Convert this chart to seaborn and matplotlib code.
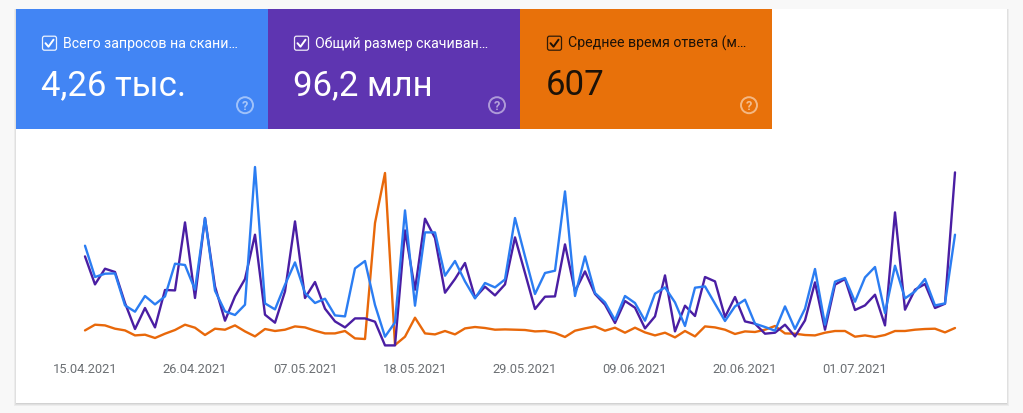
import numpy as np
import pandas as pd
import matplotlib
matplotlib.use('Agg')
import matplotlib.pyplot as plt
from matplotlib.patches import Rectangle, FancyBboxPatch, Circle
import seaborn as sns

# values, all three series on one relative scale
requests = [104,72.7,76,76.3,44.3,38,53.7,45.3,53.3,86,84.7,60,131.7,59,38.3,34.7,45,182.7,46.3,40.3,65,87.3,
            56.7,46.7,51,34.3,33.3,81.3,88.7,44.7,13,27.3,139.3,44,117.3,117.3,74,88.7,68.3,51.3,66.7,62.3,70.3,131.7,
            93.3,55.7,76.7,79,158.3,53.7,93.3,56.7,47.3,29.7,53.7,46.7,29,56,62.3,47.3,23.7,62,63.3,46,28.7,43.3,
            50,26,22.7,19,43.3,20.7,41,80.7,25,68,71.7,48,72.3,82.7,36.7,84,51.3,58.3,70.7,44.3,46.3,115]
size = [93.3,65.3,81,77.7,46.7,20.7,41.7,22.3,59.7,59.3,127.3,51.7,131.7,63.3,29,53.3,70.7,115,35,27,58.3,128.3,
        51.7,67.7,41,28.3,22.3,31.3,31.3,28,4.3,4.3,119.3,60,131,111.7,57,70.7,86.7,52,63,54.3,65.3,112.3,
        76.7,40.7,53,53.3,105.3,58.3,78.3,55.7,45,26.7,48.7,42,21.3,33.3,74.3,18.3,44,33.7,72.7,68.3,32.7,52.7,
        28.3,26,16,17,25,13.3,29.3,67.3,20,65,70.7,39.7,44.3,55,24.3,137.3,40,60,65.7,41.7,46,177.3]
response = [19.3,25,24.3,21,19.3,14.3,15,11.7,16,19.7,25,22,14.7,21,20,24.3,18.3,13.3,20.7,18.7,20,23.3,
            22.3,19,16.3,16.3,18.7,11.3,10.7,126.7,176.7,4.7,13,32,16.3,15.3,18.7,15.3,21.3,22.7,21.7,20,20.3,20,
            19.7,18.3,18.7,16.7,12.7,19,21.3,23.3,19,22,17,22,17.3,14.3,17,12.3,18.7,13.3,23.3,22.3,20,15.7,
            18.3,17.7,20,23.7,16.3,16,14.7,14.3,17,18.7,18.7,13,14.3,12.7,14.7,18.7,18.7,20,20.7,21,17.3,21.7]

dates = pd.date_range('2021-04-15', periods=len(requests), freq='D')
tick_dates = ['2021-04-15', '2021-04-26', '2021-05-07', '2021-05-18', '2021-05-29', '2021-06-09', '2021-06-20', '2021-07-01']

titles = ['Всего запросов на скани…', 'Общий размер скачиван…', 'Среднее время ответа (м…']
totals = ['4,26 тыс.', '96,2 млн', '607']
tile_colors = ['#4285F4', '#5E35B1', '#E8710A']
text_colors = ['white', 'white', '#1c1208']
line_colors = {'response': '#E8680A', 'size': '#4A1EA3', 'requests': '#2B7DF2'}

W, H = 1023, 414

sns.set_theme(style='white')
plt.rcParams['font.family'] = ['Roboto', 'DejaVu Sans']

fig = plt.figure(figsize=(W / 100, H / 100), dpi=100, facecolor='#F8F8F8')

# card and tiles, pixel coordinates
bg = fig.add_axes([0, 0, 1, 1])
bg.set_xlim(0, W)
bg.set_ylim(H - 0.7, -0.7)
bg.axis('off')

for off, col in [(3, '#ECECEC'), (2, '#E0E0E0'), (1, '#D2D2D2')]:
    bg.add_patch(Rectangle((16 - off + 1, 9), 991 + 2 * off - 2, 394 + off, color=col, lw=0))
bg.add_patch(Rectangle((16, 9), 991, 394, color='white', lw=0))

for i in range(3):
    x0 = 16 + 252 * i
    bg.add_patch(Rectangle((x0, 9), 252, 120, color=tile_colors[i], lw=0))
    tx = x0 + 26 + (1 if i == 2 else 0)
    fg = text_colors[i]
    bg.add_patch(FancyBboxPatch((tx + 0.5, 36.5), 14, 14, boxstyle='round,pad=0,rounding_size=2',
                                fc='none', ec=fg, lw=0.9, alpha=0.9))
    bg.plot([tx + 3.5, tx + 6.5, tx + 11.5], [43.5, 47, 40], color=fg, lw=1.4)
    bg.text(tx + 21, 43, titles[i], color=fg, fontsize=10.15, va='center', ha='left')
    bg.text(tx - 1, 94.5, totals[i], color=fg, fontsize=25, va='baseline', ha='left')
    ico = x0 + 229
    bg.add_patch(Circle((ico, 105.5), 8, fc='none', ec='white', lw=1.4, alpha=0.5))
    bg.text(ico, 106, '?', color='white', alpha=0.55, fontsize=9, fontweight='bold', va='center', ha='center')

# chart
df = pd.DataFrame({'date': dates, 'requests': requests, 'size': size, 'response': response})
long_df = df.melt(id_vars='date', var_name='metric', value_name='value')

ax = fig.add_axes([16 / W, 1 - 355.7 / H, 991 / W, 225 / H])
ax.patch.set_alpha(0)
sns.lineplot(data=long_df, x='date', y='value', hue='metric', hue_order=['response', 'size', 'requests'],
             palette=line_colors, linewidth=1.7, legend=False, ax=ax)

start = pd.Timestamp('2021-04-15')
ax.set_xlim(start - pd.Timedelta(days=6.9), start + pd.Timedelta(days=92.2))
ax.set_ylim(-5, 220)
ax.set_xticks(pd.to_datetime(tick_dates))
ax.set_xticklabels([pd.Timestamp(d).strftime('%d.%m.%Y') for d in tick_dates], color='#6B6F73', fontsize=9.3)
ax.set_yticks([])
ax.set_xlabel('')
ax.set_ylabel('')
ax.tick_params(axis='x', length=0, pad=5)
sns.despine(ax=ax, left=True, bottom=True)

fig.savefig('out.png', dpi=100, facecolor=fig.get_facecolor())
